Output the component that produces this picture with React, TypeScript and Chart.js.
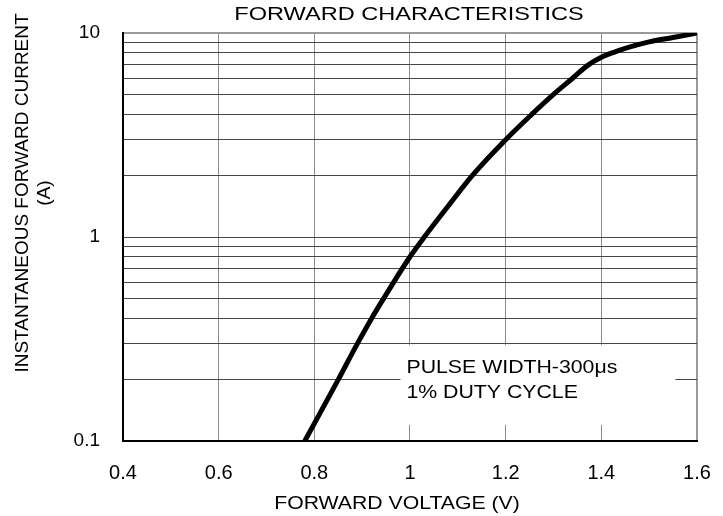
import React, { useEffect, useRef } from 'react';
import { Chart, registerables } from 'chart.js';

Chart.register(...registerables);

// ---- data ----
const voltage = [0.78, 0.85, 0.89, 0.92, 0.945, 1.0, 1.03, 1.08, 1.13, 1.2, 1.255, 1.3, 1.34, 1.37, 1.4, 1.43, 1.46, 1.5, 1.55, 1.6];
const current = [0.1, 0.2, 0.3, 0.4, 0.5, 0.8, 1.0, 1.42, 2.0, 3.0, 4.0, 5.0, 6.0, 6.9, 7.6, 8.1, 8.55, 9.05, 9.5, 10];

const xTickValues = [0.4, 0.6, 0.8, 1.0, 1.2, 1.4, 1.6];
const xTickLabels = ['0.4', '0.6', '0.8', '1', '1.2', '1.4', '1.6'];
const yLabelValues = [0.1, 1, 10];
const yTickLabels = ['0.1', '1', '10'];
const yGridValues = [0.1, 0.2, 0.3, 0.4, 0.5, 0.6, 0.7, 0.8, 0.9, 1, 2, 3, 4, 5, 6, 7, 8, 9, 10];

const titleText = 'FORWARD CHARACTERISTICS';
const xTitleText = 'FORWARD VOLTAGE (V)';
const yTitleLines = ['INSTANTANEOUS FORWARD CURRENT', '(A)'];
const noteLines = ['PULSE WIDTH-300μs', '1% DUTY CYCLE'];
const noteBoxX = [0.98, 1.555];
const noteBoxY = [0.12, 0.295];

const FONT = '"Liberation Sans", Arial, sans-serif';

function stretchedText(ctx: CanvasRenderingContext2D, text: string, x: number, y: number, sx: number, align: CanvasTextAlign) {
  ctx.save();
  ctx.translate(x, y);
  ctx.scale(sx, 1);
  ctx.textAlign = align;
  ctx.textBaseline = 'alphabetic';
  ctx.fillText(text, 0, 0);
  ctx.restore();
}

const textPlugin = {
  id: 'textPlugin',
  beforeDatasetsDraw(chart: any) {
    const ctx: CanvasRenderingContext2D = chart.ctx;
    const xs = chart.scales.x;
    const ys = chart.scales.y;
    const l = xs.getPixelForValue(noteBoxX[0]);
    const r = xs.getPixelForValue(noteBoxX[1]);
    const t = ys.getPixelForValue(noteBoxY[1]);
    const b = ys.getPixelForValue(noteBoxY[0]);
    ctx.save();
    ctx.fillStyle = '#ffffff';
    ctx.fillRect(l, t, r - l, b - t);
    ctx.fillStyle = '#000000';
    ctx.font = `19px ${FONT}`;
    noteLines.forEach((line, i) => {
      stretchedText(ctx, line, l + 6, t + 28 + i * 25, 1.12, 'left');
    });
    ctx.restore();
  },
  afterDraw(chart: any) {
    const ctx: CanvasRenderingContext2D = chart.ctx;
    const area = chart.chartArea;
    ctx.save();
    ctx.fillStyle = '#000000';
    ctx.font = `19px ${FONT}`;
    stretchedText(ctx, titleText, (area.left + area.right) / 2 - 1, 19.5, 1.24, 'center');
    stretchedText(ctx, xTitleText, 397, 509, 1.117, 'center');
    // y title, rotated
    const baseXs = [28, 49.5];
    yTitleLines.forEach((line, i) => {
      ctx.save();
      ctx.translate(baseXs[i], 193);
      ctx.rotate(-Math.PI / 2);
      ctx.textAlign = 'center';
      ctx.textBaseline = 'alphabetic';
      ctx.fillText(line, 0, 0);
      ctx.restore();
    });
    ctx.restore();
  },
};

export default function App() {
  const canvasRef = useRef<HTMLCanvasElement | null>(null);

  useEffect(() => {
    if (!canvasRef.current) return;
    const chart = new Chart(canvasRef.current, {
      type: 'line',
      data: {
        datasets: [
          {
            data: voltage.map((v, i) => ({ x: v, y: current[i] })),
            borderColor: '#000000',
            borderWidth: 5,
            pointRadius: 0,
            cubicInterpolationMode: 'monotone',
            fill: false,
          },
        ],
      },
      options: {
        animation: false,
        responsive: false,
        layout: { padding: { top: 33, right: 26, left: 0, bottom: 0 } },
        plugins: {
          legend: { display: false },
          tooltip: { enabled: false },
          title: { display: false },
        },
        scales: {
          x: {
            type: 'linear',
            min: 0.4,
            max: 1.6,
            afterBuildTicks: (scale: any) => {
              scale.ticks = xTickValues.map((v) => ({ value: v }));
            },
            afterFit: (scale: any) => {
              scale.height = 75;
              scale.paddingLeft = 0;
              scale.paddingRight = 0;
            },
            ticks: {
              autoSkip: false,
              maxRotation: 0,
              padding: 20,
              color: '#000000',
              font: { family: FONT, size: 20 },
              callback: (_v: any, i: number) => xTickLabels[i],
            },
            grid: {
              drawTicks: false,
              color: (c: any) => (c.tick && c.tick.value === 1.6 ? '#9a9a9a' : '#8c8c8c'),
              lineWidth: (c: any) => (c.tick && c.tick.value === 1.6 ? 2 : 1),
            },
            border: { color: '#000000', width: 2 },
          },
          y: {
            type: 'logarithmic',
            min: 0.1,
            max: 10,
            afterBuildTicks: (scale: any) => {
              scale.ticks = yGridValues.map((v) => ({ value: v }));
            },
            afterFit: (scale: any) => {
              scale.width = 123;
              scale.paddingTop = 0;
              scale.paddingBottom = 0;
            },
            ticks: {
              autoSkip: false,
              padding: 23,
              color: '#000000',
              font: { family: FONT, size: 19 },
              callback: (v: any) => {
                const i = yLabelValues.indexOf(v);
                return i >= 0 ? yTickLabels[i] : '';
              },
            },
            grid: {
              drawTicks: false,
              color: (c: any) => (c.tick && c.tick.value === 10 ? '#9a9a9a' : '#454545'),
              lineWidth: (c: any) => (c.tick && c.tick.value === 10 ? 2 : 1),
            },
            border: { color: '#000000', width: 2 },
          },
        },
      },
      plugins: [textPlugin],
    } as any);
    return () => chart.destroy();
  }, []);

  return (
    <div style={{ position: 'absolute', left: 0, top: 0, width: 723, height: 516, background: '#ffffff' }}>
      <canvas ref={canvasRef} width={723} height={516} style={{ display: 'block' }} />
    </div>
  );
}
